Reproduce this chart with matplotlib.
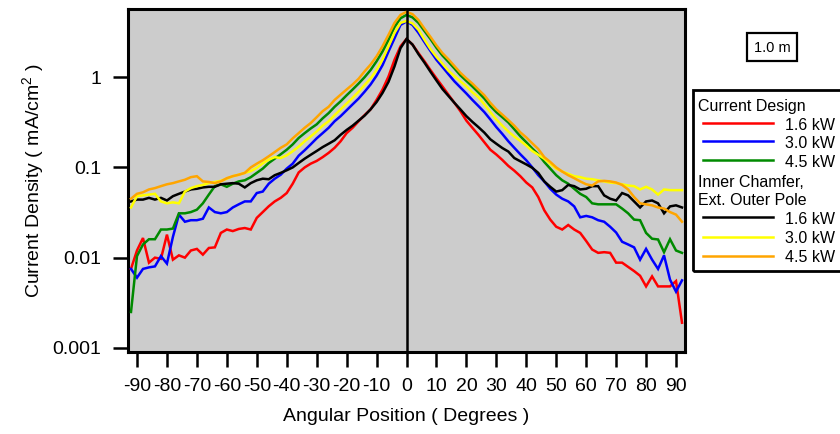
import matplotlib
matplotlib.use("Agg")
import matplotlib.pyplot as plt
from matplotlib.patches import Rectangle
from matplotlib.lines import Line2D

plt.rcParams['font.family'] = ['Liberation Sans', 'DejaVu Sans']
plt.rcParams['mathtext.fontset'] = 'custom'
plt.rcParams['mathtext.rm'] = 'Liberation Sans'
plt.rcParams['mathtext.it'] = 'Liberation Sans:italic'

# ---------------- data ----------------
angles = list(range(-92, 93, 2))

cur_16 = [0.0075, 0.012, 0.0165, 0.0088, 0.0100, 0.0097, 0.018, 0.0095, 0.0106, 0.0100, 0.0120, 0.0125, 0.0108,
          0.0128, 0.0130, 0.0188, 0.0205, 0.0197, 0.0208, 0.0213, 0.0205, 0.0276, 0.032, 0.0371, 0.042,
          0.046, 0.052, 0.066, 0.088, 0.1, 0.11, 0.118, 0.13, 0.145, 0.165, 0.195, 0.24, 0.275, 0.325, 0.38,
          0.44, 0.56, 0.73, 1.02, 1.56, 2.2, 2.65,
          2.3, 1.85, 1.5, 1.2, 0.97, 0.79, 0.64, 0.52, 0.42, 0.33, 0.275, 0.23, 0.19, 0.157, 0.139, 0.121,
          0.104, 0.092, 0.08, 0.068, 0.06, 0.047,
          0.0335, 0.0264, 0.022, 0.0205, 0.023, 0.0205, 0.0188, 0.0153, 0.0123, 0.0113, 0.0115, 0.0113,
          0.0088, 0.0088, 0.0079, 0.0071, 0.0063, 0.0048, 0.0062, 0.0048, 0.0048, 0.0048, 0.0055, 0.0019]

cur_30 = [0.0075, 0.0060, 0.0075, 0.0078, 0.0080, 0.0104, 0.0086, 0.017, 0.030, 0.025, 0.026, 0.026, 0.027,
          0.036, 0.032, 0.031, 0.032, 0.036, 0.039, 0.042, 0.042, 0.052, 0.054, 0.066, 0.075,
          0.083, 0.097, 0.11, 0.135, 0.155, 0.18, 0.21, 0.24, 0.275, 0.325, 0.37, 0.43, 0.50, 0.58, 0.69,
          0.83, 1.04, 1.36, 1.93, 2.7, 3.8, 4.15,
          3.8, 3.1, 2.45, 1.95, 1.56, 1.3, 1.08, 0.9, 0.77, 0.66, 0.56, 0.48, 0.41, 0.34, 0.28, 0.235,
          0.195, 0.165, 0.14, 0.12, 0.1, 0.082,
          0.07, 0.058, 0.05, 0.045, 0.042, 0.037, 0.028, 0.029, 0.028, 0.026, 0.025, 0.022, 0.019, 0.015,
          0.014, 0.013, 0.0095, 0.0125, 0.0095, 0.0075, 0.0106, 0.0057, 0.0042, 0.0056]

cur_45 = [0.0025, 0.0104, 0.014, 0.016, 0.016, 0.0205, 0.0205, 0.021, 0.031, 0.031, 0.032, 0.034, 0.040,
          0.050, 0.062, 0.065, 0.061, 0.066, 0.070, 0.072, 0.078, 0.087, 0.097, 0.112, 0.125,
          0.14, 0.157, 0.18, 0.212, 0.24, 0.27, 0.30, 0.35, 0.40, 0.47, 0.54, 0.63, 0.73, 0.85, 1.0,
          1.2, 1.5, 1.93, 2.6, 3.6, 4.5, 4.9,
          4.6, 4.0, 3.25, 2.65, 2.12, 1.74, 1.48, 1.25, 1.05, 0.91, 0.79, 0.68, 0.58, 0.48, 0.41, 0.36,
          0.315, 0.265, 0.222, 0.19, 0.162, 0.14,
          0.115, 0.097, 0.082, 0.072, 0.066, 0.058, 0.051, 0.047, 0.040, 0.039, 0.039, 0.039, 0.039, 0.035,
          0.031, 0.0264, 0.026, 0.0188, 0.0162, 0.0159, 0.0115, 0.016, 0.012, 0.0113]

new_16 = [0.042, 0.044, 0.044, 0.046, 0.044, 0.046, 0.043, 0.048, 0.051, 0.054, 0.057, 0.058, 0.060,
          0.061, 0.061, 0.065, 0.066, 0.067, 0.066, 0.060, 0.067, 0.072, 0.075, 0.074, 0.082,
          0.087, 0.093, 0.1, 0.112, 0.125, 0.138, 0.152, 0.168, 0.183, 0.20, 0.23, 0.26, 0.29, 0.33, 0.375,
          0.44, 0.53, 0.67, 0.89, 1.32, 2.1, 2.65,
          2.3, 1.8, 1.45, 1.15, 0.92, 0.74, 0.62, 0.52, 0.44, 0.37, 0.32, 0.28, 0.243, 0.205, 0.183, 0.164,
          0.15, 0.127, 0.117, 0.108, 0.099, 0.087,
          0.07, 0.061, 0.054, 0.056, 0.064, 0.062, 0.057, 0.058, 0.062, 0.062, 0.049, 0.045, 0.043, 0.052,
          0.049, 0.042, 0.036, 0.042, 0.043, 0.040, 0.031, 0.037, 0.038, 0.036]

new_30 = [0.036, 0.048, 0.049, 0.050, 0.051, 0.042, 0.040, 0.041, 0.040, 0.054, 0.059, 0.062, 0.064,
          0.067, 0.069, 0.071, 0.075, 0.080, 0.083, 0.087, 0.091, 0.099, 0.111, 0.122, 0.13,
          0.127, 0.136, 0.151, 0.17, 0.195, 0.22, 0.25, 0.29, 0.325, 0.38, 0.44, 0.51, 0.59, 0.69, 0.82,
          0.97, 1.2, 1.57, 2.2, 3.1, 4.0, 4.2,
          3.95, 3.35, 2.6, 2.05, 1.68, 1.41, 1.18, 1.03, 0.9, 0.79, 0.68, 0.6, 0.5, 0.41, 0.34, 0.29,
          0.25, 0.22, 0.197, 0.175, 0.152, 0.138,
          0.125, 0.11, 0.097, 0.09, 0.085, 0.080, 0.078, 0.075, 0.074, 0.072, 0.070, 0.068, 0.067, 0.065,
          0.063, 0.062, 0.057, 0.061, 0.057, 0.050, 0.057, 0.056, 0.056, 0.056]

new_45 = [0.045, 0.051, 0.053, 0.057, 0.059, 0.062, 0.065, 0.067, 0.070, 0.073, 0.078, 0.080, 0.070,
          0.069, 0.067, 0.070, 0.076, 0.080, 0.083, 0.087, 0.1, 0.11, 0.12, 0.133, 0.148,
          0.165, 0.18, 0.21, 0.24, 0.275, 0.31, 0.36, 0.42, 0.47, 0.56, 0.64, 0.73, 0.83, 0.96, 1.16,
          1.38, 1.7, 2.2, 2.95, 4.0, 4.9, 5.3,
          5.0, 4.3, 3.45, 2.8, 2.25, 1.85, 1.58, 1.33, 1.12, 0.97, 0.85, 0.73, 0.63, 0.52, 0.44, 0.385,
          0.335, 0.29, 0.245, 0.215, 0.185, 0.16,
          0.13, 0.115, 0.1, 0.09, 0.082, 0.076, 0.070, 0.065, 0.063, 0.070, 0.071, 0.070, 0.068, 0.064,
          0.057, 0.047, 0.040, 0.039, 0.038, 0.036, 0.035, 0.032, 0.030, 0.025]

x_ticks = list(range(-90, 91, 10))
y_ticks = [0.001, 0.01, 0.1, 1]
y_tick_labels = ["0.001", "0.01", "0.1", "1"]

group1_title = "Current Design"
group2_title_lines = ["Inner Chamfer,", "Ext. Outer Pole"]
power_labels = ["1.6 kW", "3.0 kW", "4.5 kW"]
group1_colors = ["#ff0000", "#0000ff", "#008a00"]
group2_colors = ["#000000", "#ffff00", "#ffa500"]

# ---------------- figure ----------------
W, H = 840, 434
fig = plt.figure(figsize=(W / 100, H / 100), dpi=100)
ax = fig.add_axes([128 / W, 1 - 352 / H, (685 - 128) / W, (352 - 9) / H])
ax.set_facecolor('#cccccc')

lw = 1.8
series = [cur_16, cur_30, cur_45, new_16, new_30, new_45]
colors = group1_colors + group2_colors
for s, c in zip(series, colors):
    ax.plot(angles, s, color=c, lw=lw, solid_joinstyle='miter', zorder=3)

ax.axvline(0, color='black', lw=1.8, zorder=5)

ax.set_yscale('log')
ax.set_xlim(-93, 93)
ax.set_ylim(0.0009, 5.7)
ax.set_xticks(x_ticks)
ax.set_xticklabels([str(t) for t in x_ticks])
ax.set_yticks(y_ticks)
ax.set_yticklabels(y_tick_labels)
ax.yaxis.set_minor_locator(matplotlib.ticker.NullLocator())
ax.tick_params(axis='both', which='major', direction='out', length=11, width=1.8,
               labelsize=14, pad=8, color='black')
for sp in ax.spines.values():
    sp.set_linewidth(2.2)
    sp.set_color('black')

ax.set_xlabel("Angular Position ( Degrees )", fontsize=14, labelpad=9)
ax.set_ylabel("Current Density ( mA/cm$^{2}$ )", fontsize=14, labelpad=5)


# ---------------- legend & scale box (pixel placed) ----------------
def fx(px):
    return px / W


def fy(py):
    return 1 - py / H


fig.add_artist(Rectangle((fx(747), fy(61)), fx(797) - fx(747), fy(33) - fy(61),
                         transform=fig.transFigure, fill=False, lw=1.6, ec='black', clip_on=False))
fig.text(fx(772), fy(51.5), "1.0 m", fontsize=10.5, ha='center', va='baseline')

fig.add_artist(Rectangle((fx(693), fy(271)), fx(860) - fx(693), fy(90) - fy(271),
                         transform=fig.transFigure, fill=False, lw=2.0, ec='black', clip_on=False))

fs_leg = 11.5
fig.text(fx(698), fy(111), group1_title, fontsize=fs_leg, va='baseline')
g1_lines = [122.7, 140.5, 160]
g1_base = [130, 147.5, 166.7]
for yl, yb, c, lab in zip(g1_lines, g1_base, group1_colors, power_labels):
    fig.add_artist(Line2D([fx(703), fx(773)], [fy(yl), fy(yl)], color=c, lw=lw,
                          transform=fig.transFigure))
    fig.text(fx(785), fy(yb), lab, fontsize=fs_leg, va='baseline')

fig.text(fx(698), fy(186.7), group2_title_lines[0], fontsize=fs_leg, va='baseline')
fig.text(fx(698), fy(205), group2_title_lines[1], fontsize=fs_leg, va='baseline')
g2_lines = [217.3, 236.7, 255.7]
g2_base = [224.3, 243.3, 262.3]
for yl, yb, c, lab in zip(g2_lines, g2_base, group2_colors, power_labels):
    fig.add_artist(Line2D([fx(703), fx(773)], [fy(yl), fy(yl)], color=c, lw=lw,
                          transform=fig.transFigure))
    fig.text(fx(785), fy(yb), lab, fontsize=fs_leg, va='baseline')

fig.savefig("out.png", dpi=100)
